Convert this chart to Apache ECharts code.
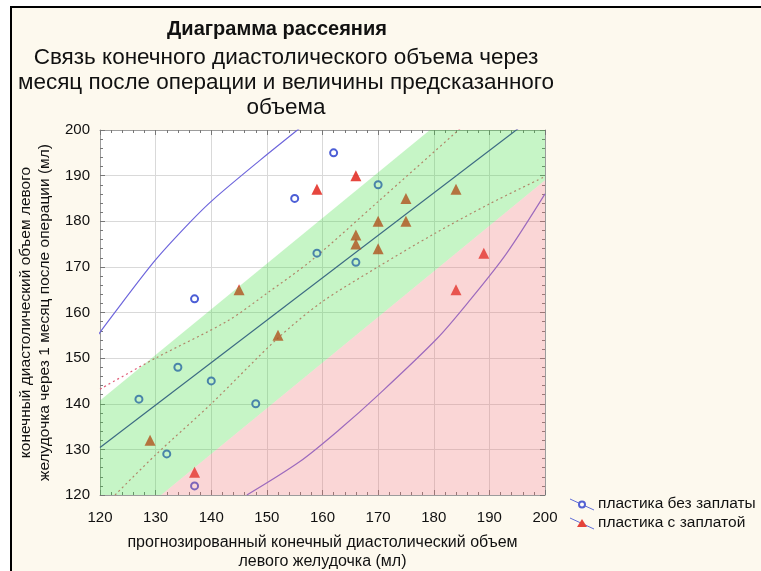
<!DOCTYPE html>
<html>
<head>
<meta charset="utf-8">
<script src="https://cdn.jsdelivr.net/npm/echarts@6/dist/echarts.min.js"></script>
<style>html,body{margin:0;padding:0;background:#fff;}#c{width:761px;height:571px;}</style>
</head>
<body>
<div id="c"></div>
<script>
// ---- data ----
const xTicks = [120, 130, 140, 150, 160, 170, 180, 190, 200];
const yTicks = [120, 130, 140, 150, 160, 170, 180, 190, 200];
const seriesNames = ['пластика без заплаты', 'пластика с заплатой'];
const noPatch = [[137,163],[155,185],[162,195],[170,188],[159,173],[166,171],[127,141],[134,148],[140,145],[148,140],[132,129],[137,122]];
const withPatch = [[129,132],[137,125],[152,155],[145,165],[159,187],[166,190],[175,185],[184,187],[170,180],[175,180],[166,177],[166,175],[170,174],[189,173],[184,165]];
const regression = [[120,130.4],[200,204.8]];
const confUpper = [[120,143.2],[130,150],[143,158.2],[150,164.2],[158,171.4],[170,184.3],[184,199.5],[186,201.7]];
const confLower = [[122.7,120],[130,128.8],[140,140],[152,154.4],[160,162.4],[170,170],[180,177.2],[190,183.8],[200,189.8]];
const ellipseUpper = [[119,154],[121.8,158.6],[129.9,171.4],[136.2,179.8],[140.4,184.8],[148.8,193.4],[155.1,199.6],[156,200.5]];
const ellipseLower = [[146.4,120],[156,127.4],[163,134.3],[170,141.9],[180.6,154.3],[186.5,162.7],[193,172.8],[200,186]];
const greenBand = [[120,120],[131,120],[200,189],[200,200],[179.3,200],[120,140.7]];
const pinkBand = [[131,120],[200,120],[200,189]];

const titleText = 'Диаграмма рассеяния';
const subText = 'Связь конечного диастолического объема через\nмесяц после операции и величины предсказанного\nобъема';
const xName = 'прогнозированный конечный диастолический объем\nлевого желудочка (мл)';
const yName = 'конечный диастолический объем левого\nжелудочка через 1 месяц после операции (мл)';

const FONT = '"Liberation Sans", Arial, sans-serif';

const iconCircle = 'image://data:image/svg+xml;utf8,' + encodeURIComponent(
  "<svg xmlns='http://www.w3.org/2000/svg' width='28' height='14'><line x1='3' y1='2' x2='27' y2='13' stroke='#3a4ad0' stroke-width='1'/><circle cx='15' cy='7.5' r='3' fill='white' stroke='#2a3ccc' stroke-width='2'/></svg>");
const iconTri = 'image://data:image/svg+xml;utf8,' + encodeURIComponent(
  "<svg xmlns='http://www.w3.org/2000/svg' width='28' height='14'><line x1='3' y1='2' x2='27' y2='13' stroke='#3a4ad0' stroke-width='1'/><polygon points='15,3 20,11 10,11' fill='#e0180e'/></svg>");

function bandSeries(points, color, opacity) {
  return {
    type: 'custom',
    coordinateSystem: 'cartesian2d',
    z: 5,
    silent: true,
    data: [points[0]],
    renderItem: function (params, api) {
      const pts = points.map(p => api.coord(p));
      return { type: 'polygon', shape: { points: pts }, style: { fill: color, opacity: opacity } };
    }
  };
}

function axisCommon(pos) {
  return {
    type: 'value', min: 120, max: 200, interval: 10, position: pos,
    axisLine: { show: true, onZero: false, lineStyle: { color: '#9c9c9c', width: 1 } },
    axisTick: { show: true, inside: true, length: 5, lineStyle: { color: '#777' } },
    minorTick: { show: true, splitNumber: 5, length: 3, lineStyle: { color: '#777' } },
    splitLine: { show: false },
    axisLabel: { show: false }
  };
}

function curve(name, data, color, dotted) {
  return {
    type: 'line', name: name, data: data, smooth: 0.3,
    showSymbol: false, symbol: 'none', z: 2, silent: true,
    lineStyle: { color: color, width: 1.2, type: dotted ? [2, 3] : 'solid' }
  };
}

const chart = echarts.init(document.getElementById('c'), null, { renderer: 'canvas' });
chart.setOption({
  backgroundColor: '#ffffff',
  animation: false,
  graphic: [{
    type: 'rect', z: -100, silent: true,
    shape: { x: 11, y: 7, width: 800, height: 600 },
    style: { fill: '#fdf9ee', stroke: '#000', lineWidth: 2 }
  }],
  title: [{
    text: titleText,
    left: 272, top: 14, textAlign: 'center',
    textStyle: { fontFamily: FONT, fontSize: 20, fontWeight: 'bold', color: '#111' }
  }, {
    text: subText,
    left: 281, top: 40, textAlign: 'center',
    textStyle: { fontFamily: FONT, fontSize: 22.5, fontWeight: 'normal', color: '#111', lineHeight: 25 }
  }],
  legend: {
    orient: 'vertical', left: 562, top: 491, itemGap: 3,
    itemWidth: 28, itemHeight: 14,
    textStyle: { fontFamily: FONT, fontSize: 15.5, color: '#111', padding: [0, 0, 0, -2] },
    data: [{ name: seriesNames[0], icon: iconCircle }, { name: seriesNames[1], icon: iconTri }]
  },
  grid: { left: 100, top: 130, width: 445, height: 365, show: true, backgroundColor: '#ffffff', borderWidth: 0,
          outerBoundsMode: 'none', containLabel: false },
  xAxis: [
    Object.assign(axisCommon('bottom'), {
      axisLabel: { show: true, fontFamily: FONT, fontSize: 15, color: '#111', margin: 15 },
      splitLine: { show: true, lineStyle: { color: '#d9d9d9', width: 1 } },
      name: xName, nameLocation: 'middle', nameGap: 38,
      nameTextStyle: { fontFamily: FONT, fontSize: 16, color: '#111', lineHeight: 19 }
    }),
    axisCommon('top')
  ],
  yAxis: [
    Object.assign(axisCommon('left'), {
      axisLabel: { show: true, fontFamily: FONT, fontSize: 15, color: '#111', margin: 10 },
      splitLine: { show: true, lineStyle: { color: '#d9d9d9', width: 1 } },
      name: yName, nameLocation: 'middle', nameGap: 38,
      nameTextStyle: { fontFamily: FONT, fontSize: 15.5, color: '#111', lineHeight: 19 }
    }),
    axisCommon('right')
  ],
  series: [
    curve('ellU', ellipseUpper, '#6e66dc', false),
    curve('ellL', ellipseLower, '#7a66dc', false),
    { type: 'line', name: 'reg', data: regression, showSymbol: false, symbol: 'none', z: 2, silent: true,
      lineStyle: { color: '#3a3a9f', width: 1.2 } },
    curve('cu', confUpper, '#e0607a', true),
    curve('cl', confLower, '#e0607a', true),
    { type: 'scatter', name: seriesNames[0], data: noPatch, symbol: 'circle', symbolSize: 7, z: 3,
      itemStyle: { color: '#ffffff', borderColor: '#1f36cc', borderWidth: 2 } },
    { type: 'scatter', name: seriesNames[1], data: withPatch, symbol: 'triangle', symbolSize: 11, z: 3,
      itemStyle: { color: '#e0180e' } },
    bandSeries(greenBand, '#41de41', 0.3),
    bandSeries(pinkBand, '#ee7676', 0.3)
  ]
});
</script>
</body>
</html>
